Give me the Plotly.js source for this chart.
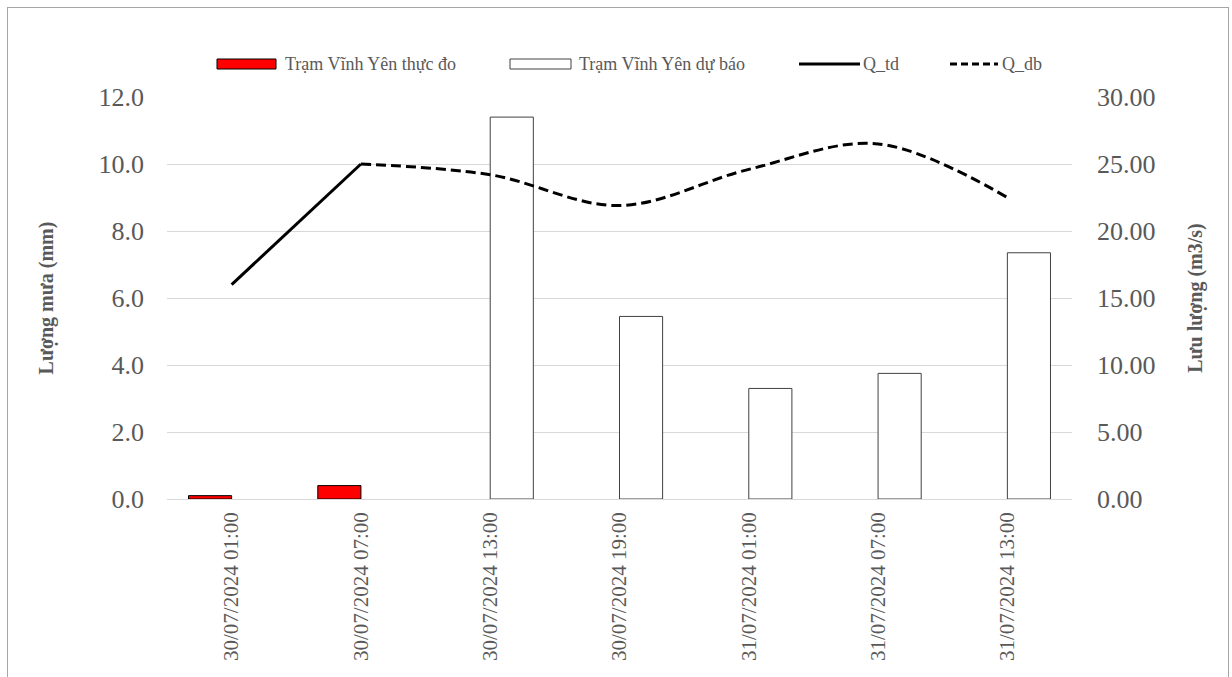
<!DOCTYPE html>
<html>
<head>
<meta charset="utf-8">
<script src="https://cdn.plot.ly/plotly-3.0.1.min.js"></script>
<style>
  html, body { margin: 0; padding: 0; background: #fff; }
  #wrap { position: relative; width: 1232px; height: 677px; overflow: hidden; }
  #chart { position: absolute; left: 0; top: 0; width: 1232px; height: 677px; }
  #frame { position: absolute; left: 7px; top: 7px; width: 1222px; height: 700px;
           border: 1px solid #a6a6a6; pointer-events: none; box-sizing: border-box; }
</style>
</head>
<body>
<div id="wrap">
  <div id="chart"></div>
  <div id="frame"></div>
</div>
<script>
const categories = [
  "30/07/2024 01:00", "30/07/2024 07:00", "30/07/2024 13:00", "30/07/2024 19:00",
  "31/07/2024 01:00", "31/07/2024 07:00", "31/07/2024 13:00"
];
const rainObserved = [0.1, 0.4, null, null, null, null, null];
const rainForecast = [null, null, 11.4, 5.45, 3.3, 3.75, 7.35];
const flowObserved = [16.0, 25.0, null, null, null, null, null];
const flowForecast = [null, 25.0, 24.2, 21.9, 24.6, 26.5, 22.5];
const seriesNames = ["Trạm Vĩnh Yên thực đo", "Trạm Vĩnh Yên dự báo", "Q_td", "Q_db"];

const FONT = "'Liberation Serif', 'Times New Roman', serif";
const GRAY = "#595959";

const traces = [
  {
    type: "bar", name: seriesNames[0], x: categories, y: rainObserved,
    marker: { color: "#ff0000", line: { color: "#000000", width: 1 } }
  },
  {
    type: "bar", name: seriesNames[1], x: categories, y: rainForecast,
    marker: { color: "#ffffff", line: { color: "#404040", width: 1 } }
  },
  {
    type: "scatter", mode: "lines", name: seriesNames[2], x: categories, y: flowObserved, yaxis: "y2",
    line: { color: "#000000", width: 3 }
  },
  {
    type: "scatter", mode: "lines", name: seriesNames[3], x: categories, y: flowForecast, yaxis: "y2",
    line: { color: "#000000", width: 3, dash: "10px,5px", shape: "spline", smoothing: 1 }
  }
];

// custom legend (plot area: x 167..1072 px, y 97..499 px)
const PL = 167, PW = 905, PB = 499, PH = 402;
const px = v => (v - PL) / PW;
const py = v => (PB - v) / PH;
const LY = 64;
const shapes = [
  { type: "rect", xref: "paper", yref: "paper", x0: px(217), x1: px(276), y0: py(69), y1: py(59),
    fillcolor: "#ff0000", line: { color: "#000000", width: 1 } },
  { type: "rect", xref: "paper", yref: "paper", x0: px(510), x1: px(571), y0: py(69), y1: py(59),
    fillcolor: "#ffffff", line: { color: "#404040", width: 1 } },
  { type: "line", xref: "paper", yref: "paper", x0: px(799), x1: px(860), y0: py(LY), y1: py(LY),
    line: { color: "#000000", width: 3 } },
  { type: "line", xref: "paper", yref: "paper", x0: px(950), x1: px(998), y0: py(LY), y1: py(LY),
    line: { color: "#000000", width: 3, dash: "7px,4px" } }
];
const legendTextX = [283, 577, 861, 1000];
const annotations = seriesNames.map((n, i) => ({
  xref: "paper", yref: "paper", x: px(legendTextX[i]), y: py(LY), xanchor: "left", yanchor: "middle",
  text: n, showarrow: false, font: { family: FONT, size: 18, color: GRAY }
}));

const layout = {
  width: 1232, height: 677,
  margin: { l: 167, r: 160, t: 97, b: 178, pad: 0 },
  paper_bgcolor: "#ffffff", plot_bgcolor: "#ffffff",
  font: { family: FONT, color: GRAY },
  barmode: "group", bargap: 0.333, bargroupgap: 0,
  showlegend: false,
  shapes: shapes,
  annotations: annotations,
  hovermode: false,
  xaxis: {
    type: "category", tickangle: -90, showgrid: false, zeroline: false,
    showline: false, ticks: "", ticklabelstandoff: 8,
    tickfont: { family: FONT, size: 21, color: GRAY }, automargin: false
  },
  yaxis: {
    range: [0, 12], dtick: 2, tickformat: ".1f", showgrid: true, gridcolor: "#d9d9d9", gridwidth: 1,
    zeroline: true, zerolinecolor: "#d9d9d9", zerolinewidth: 1, showline: false, ticks: "",
    ticklabelstandoff: 22,
    tickfont: { family: FONT, size: 26, color: GRAY }, automargin: false,
    title: { text: "Lượng mưa (mm)", font: { family: FONT, size: 20, color: GRAY, weight: "bold" }, standoff: 39 }
  },
  yaxis2: {
    range: [0, 30], dtick: 5, tickformat: ".2f", overlaying: "y", side: "right",
    showgrid: false, zeroline: false, showline: false, ticks: "",
    ticklabelstandoff: 24,
    tickfont: { family: FONT, size: 26, color: GRAY }, automargin: false,
    title: { text: "Lưu lượng (m3/s)", font: { family: FONT, size: 20, color: GRAY, weight: "bold" }, standoff: 33 }
  }
};

Plotly.newPlot("chart", traces, layout, { displayModeBar: false, staticPlot: true });
</script>
</body>
</html>
